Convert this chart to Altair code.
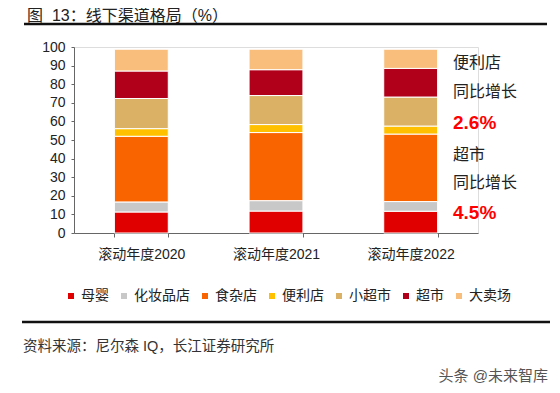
import altair as alt
import pandas as pd

years = ["滚动年度2020", "滚动年度2021", "滚动年度2022"]
channels = ["母婴", "化妆品店", "食杂店", "便利店", "小超市", "超市", "大卖场"]
colors = ["#E00000", "#C8C8C8", "#FA6400", "#FFC000", "#DAB165", "#B0001A", "#F9BE7C"]

muying = [11.3, 11.8, 11.7]
huazhuang = [5.4, 5.6, 5.2]
shiza = [35.3, 36.6, 36.3]
bianli = [4.1, 4.3, 4.3]
xiaochaoshi = [16.2, 15.6, 15.6]
chaoshi = [14.8, 13.9, 15.4]
maichang = [11.7, 11.0, 10.3]

series = [muying, huazhuang, shiza, bianli, xiaochaoshi, chaoshi, maichang]
rows = []
for ci, (ch, vals) in enumerate(zip(channels, series)):
    for yr, v in zip(years, vals):
        rows.append({"year": yr, "channel": ch, "value": v, "order": ci})
df = pd.DataFrame(rows)

FONT = "Liberation Sans, Noto Sans CJK SC"

bars = alt.Chart(df).mark_bar(stroke="white", strokeWidth=1).encode(
    x=alt.X("year:N", sort=years,
            scale=alt.Scale(paddingInner=0.6, paddingOuter=0.3),
            axis=alt.Axis(title=None, labelAngle=0, labelFontSize=14, labelColor="#222",
                          labelPadding=10, domainColor="#666", tickColor="#666",
                          tickBand="extent", tickSize=4, labelFont=FONT)),
    y=alt.Y("value:Q", stack="zero",
            scale=alt.Scale(domain=[0, 100], nice=False),
            axis=alt.Axis(title=None, values=list(range(0, 101, 10)), grid=False,
                          labelFontSize=14, labelColor="#222", domainColor="#666",
                          tickColor="#666", tickSize=3, labelPadding=6, labelFont=FONT)),
    color=alt.Color("channel:N", sort=channels,
                    scale=alt.Scale(domain=channels, range=colors),
                    legend=alt.Legend(title=None, orient="none", direction="horizontal",
                                      legendX=-10, legendY=242, columns=7,
                                      symbolType="square", symbolSize=36,
                                      symbolStrokeWidth=0, symbolOffset=0,
                                      labelFontSize=14, labelColor="#222", labelFont=FONT,
                                      columnPadding=8, labelOffset=3)),
    order=alt.Order("order:Q", sort="ascending"),
)

one = alt.Data(values=[{}])

def label(txt, x, y, size=16, color="#222", weight="normal", align="left"):
    return alt.Chart(one).mark_text(
        align=align, baseline="middle", fontSize=size, color=color,
        fontWeight=weight, font=FONT
    ).encode(x=alt.value(x), y=alt.value(y), text=alt.value(txt))

def hline(x1, x2, y, w=2.5):
    return alt.Chart(one).mark_rule(color="#111", strokeWidth=w).encode(
        x=alt.value(x1), x2=alt.value(x2), y=alt.value(y))

layers = [
    bars,
    label("图\u00a0\u00a013：线下渠道格局（%）", -47, -31.5, size=16),
    hline(-50, 473, -23),
    label("便利店", 379, 16),
    label("同比增长", 379, 45),
    label("2.6%", 379, 76, size=19, color="#FF0000", weight="bold"),
    label("超市", 379, 108),
    label("同比增长", 379, 136),
    label("4.5%", 379, 166, size=19, color="#FF0000", weight="bold"),
    hline(-52, 476, 275),
    label("资料来源：尼尔森 IQ，长江证券研究所", -51, 300, size=14.5, color="#333"),
    label("头条 @未来智库", 474, 329, size=15, color="#555", align="right"),
]

chart = alt.layer(*layers).properties(
    width=404, height=186,
    autosize=alt.AutoSizeParams(type="none"),
    padding={"left": 66, "top": 39, "right": 74, "bottom": 152},
).configure_view(stroke=None).configure(font=FONT)

chart.save("out.html", embed_options={"renderer": "svg", "actions": False})
